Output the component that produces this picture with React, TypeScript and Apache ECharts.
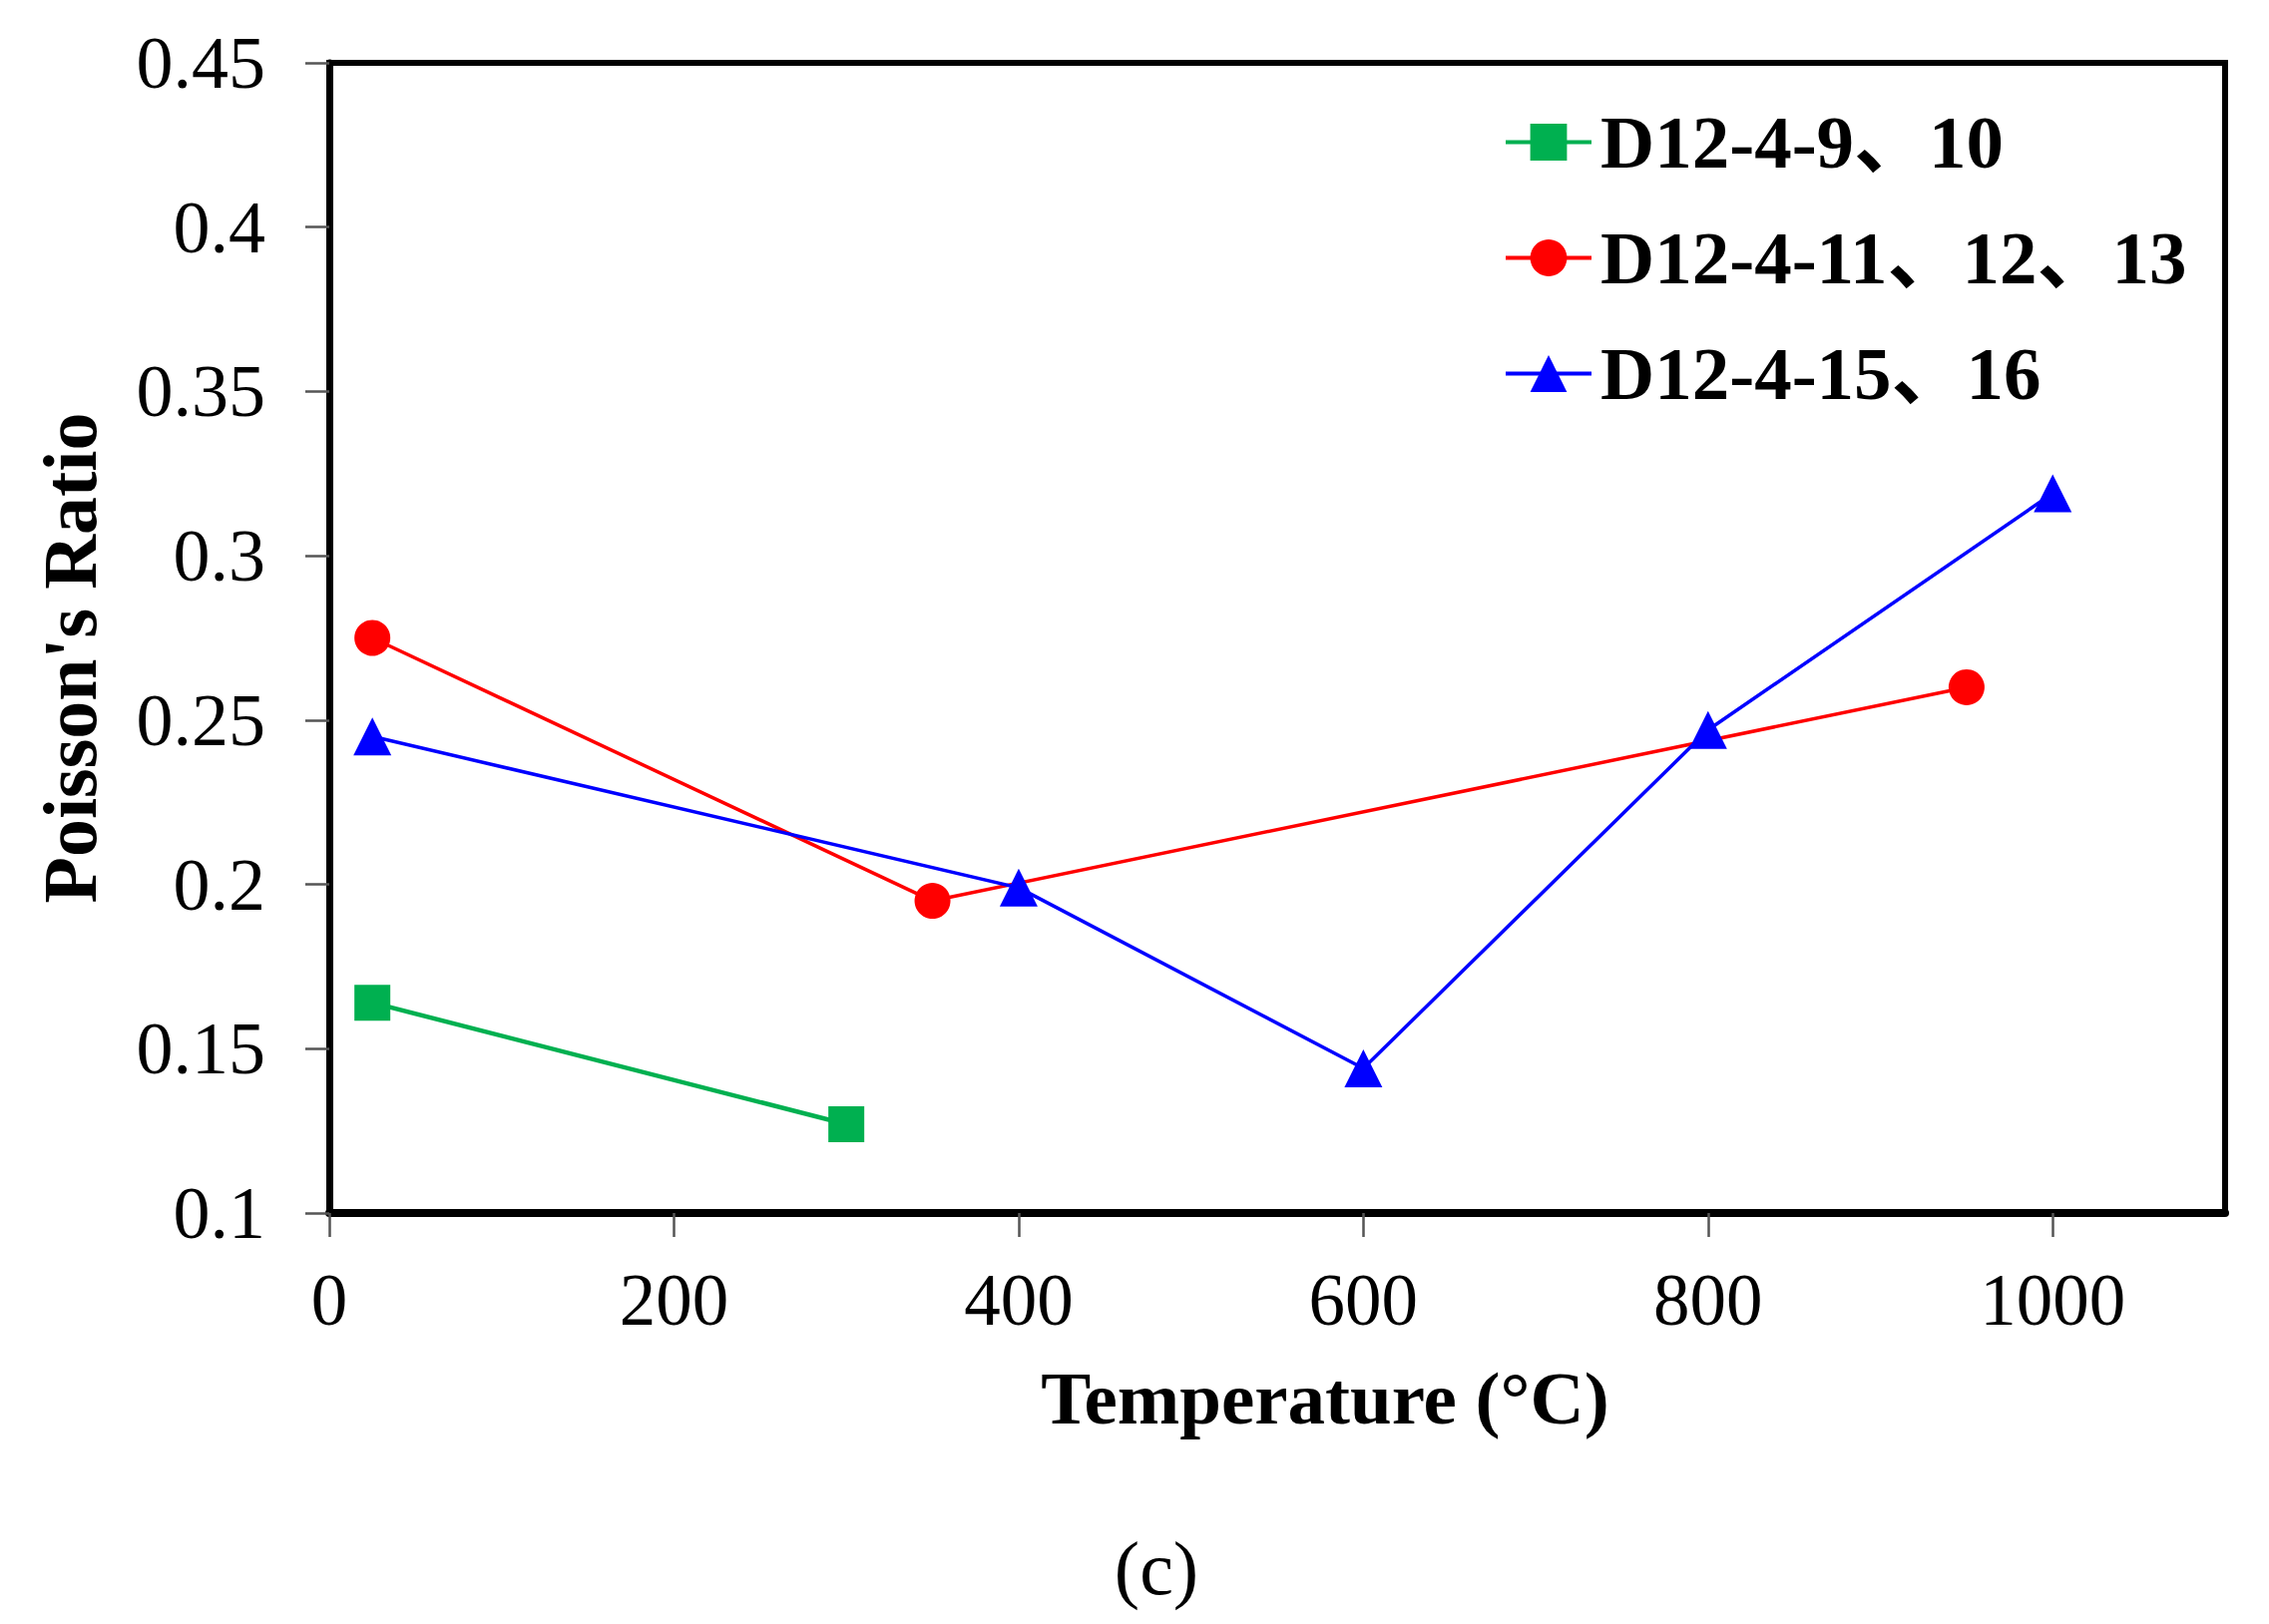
import React, { useEffect, useRef } from "react";
import * as echarts from "echarts";

const seriesNames = ["D12-4-9、10", "D12-4-11、12、13", "D12-4-15、16"];
const greenTemps = [25, 300];
const greenValues = [0.164, 0.127];
const redTemps = [25, 350, 950];
const redValues = [0.275, 0.195, 0.26];
const blueTemps = [25, 400, 600, 800, 1000];
const blueValues = [0.245, 0.199, 0.144, 0.247, 0.319];
const xTicks = [0, 200, 400, 600, 800, 1000];
const xName = "Temperature (°C)";
const yName = "Poisson's Ratio";
const caption = "(c)";

const serif = '"Liberation Serif", "Times New Roman", "Noto Sans CJK SC", serif';

const pairs = (xs: number[], ys: number[]) => xs.map((x, i) => [x, ys[i]]);

export default function App() {
  const ref = useRef<HTMLDivElement>(null);
  useEffect(() => {
    if (!ref.current) return;
    const chart = echarts.init(ref.current, null, { renderer: "svg" });
    const W = 2274;
    const H = 1628;
    chart.setOption({
      animation: false,
      backgroundColor: "#ffffff",
      grid: {
        left: 330,
        right: W - 2230,
        top: 63,
        bottom: H - 1216,
        show: true,
        borderColor: "#000",
        borderWidth: 6,
        backgroundColor: "transparent",
      },
      legend: {
        orient: "vertical",
        left: 1502,
        top: 100,
        itemWidth: 86,
        itemHeight: 46,
        itemGap: 41,
        data: seriesNames,
        lineStyle: { width: 4 },
        textStyle: {
          fontFamily: serif,
          fontWeight: "bold",
          fontSize: 75,
          color: "#000",
          padding: [0, 0, 0, 4],
        },
      },
      xAxis: {
        type: "value",
        min: 0,
        max: 1100,
        interval: 200,
        name: xName,
        nameLocation: "middle",
        nameGap: 148,
        nameTextStyle: {
          fontFamily: serif,
          fontWeight: "bold",
          fontSize: 75,
          color: "#000",
          padding: [0, 0, 0, 96],
        },
        axisLine: { show: true, onZero: false, lineStyle: { color: "#000", width: 8 } },
        axisTick: {
          show: true,
          inside: false,
          length: 24,
          customValues: xTicks,
          lineStyle: { color: "#555", width: 2.5 },
        },
        axisLabel: {
          customValues: xTicks,
          margin: 51,
          fontFamily: serif,
          fontSize: 73,
          color: "#000",
          formatter: (v: number) => String(v),
        },
        splitLine: { show: false },
      },
      yAxis: {
        type: "value",
        min: 0.1,
        max: 0.45,
        interval: 0.05,
        name: yName,
        nameLocation: "middle",
        nameGap: 222,
        nameTextStyle: {
          fontFamily: serif,
          fontWeight: "bold",
          fontSize: 76,
          color: "#000",
          padding: [0, 40, 0, 0],
        },
        axisLine: { show: true, onZero: false, lineStyle: { color: "#000", width: 7 } },
        axisTick: {
          show: true,
          inside: false,
          length: 24,
          lineStyle: { color: "#555", width: 2.5 },
        },
        axisLabel: {
          margin: 64,
          fontFamily: serif,
          fontSize: 74,
          color: "#000",
        },
        splitLine: { show: false },
      },
      graphic: [
        {
          type: "text",
          x: 1159,
          y: 1572,
          style: {
            text: caption,
            fontFamily: serif,
            fontSize: 76,
            fill: "#000",
            align: "center",
            verticalAlign: "middle",
          },
        },
      ],
      series: [
        {
          name: seriesNames[0],
          type: "line",
          data: pairs(greenTemps, greenValues),
          symbol: "rect",
          symbolSize: 36,
          itemStyle: { color: "#00B050" },
          lineStyle: { color: "#00B050", width: 4.5 },
          z: 3,
        },
        {
          name: seriesNames[1],
          type: "line",
          data: pairs(redTemps, redValues),
          symbol: "circle",
          symbolSize: 36,
          itemStyle: { color: "#FF0000" },
          lineStyle: { color: "#FF0000", width: 3.5 },
          z: 3,
        },
        {
          name: seriesNames[2],
          type: "line",
          data: pairs(blueTemps, blueValues),
          symbol: "triangle",
          symbolSize: 38,
          itemStyle: { color: "#0000FF" },
          lineStyle: { color: "#0000FF", width: 3.5 },
          z: 4,
        },
      ],
    });
    return () => chart.dispose();
  }, []);
  return (
    <div
      ref={ref}
      style={{ position: "fixed", left: 0, top: 0, width: 2274, height: 1628, background: "#fff" }}
    />
  );
}
